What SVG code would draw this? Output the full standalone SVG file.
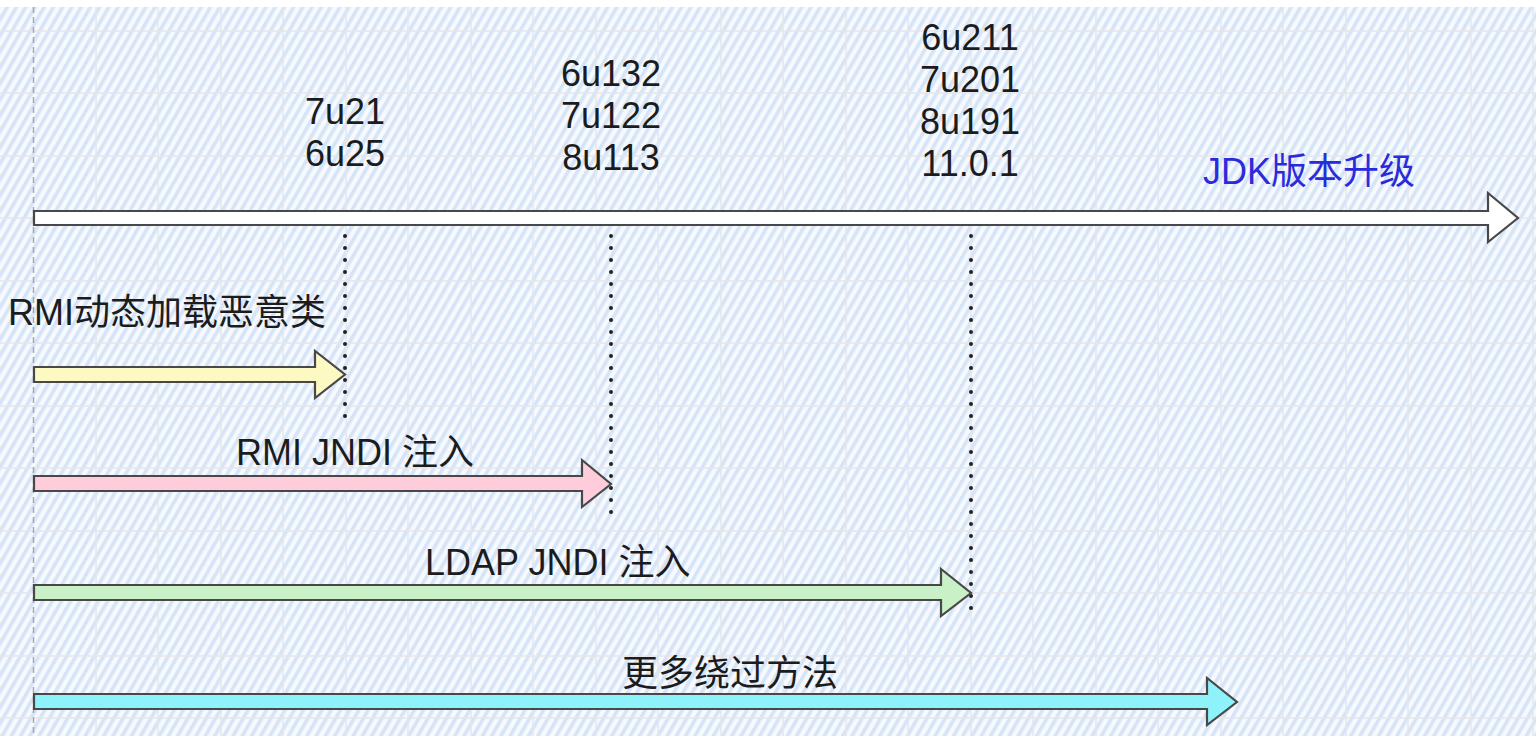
<svg xmlns="http://www.w3.org/2000/svg" width="1536" height="736" viewBox="0 0 1536 736">
<style>
.t{font-family:"Liberation Sans","Noto Sans CJK SC",sans-serif;font-size:36px;fill:#1c1c1c}
.v{text-anchor:middle}
.grid line{stroke:#e4e6ea;stroke-width:1.5}
.arrow{stroke:#484848;stroke-width:2.2;stroke-linejoin:miter}
.dots{stroke:#222;stroke-width:4;stroke-linecap:round;stroke-dasharray:0 12;fill:none}
</style>
<defs>
<pattern id="hatch" width="8" height="8" patternUnits="userSpaceOnUse" patternTransform="rotate(30)">
<rect width="8" height="8" fill="#f6f9fe"/>
<rect width="3.6" height="8" fill="#d6e4f7"/>
</pattern>
</defs>
<rect width="1536" height="736" fill="#ffffff"/>
<rect x="0" y="7" width="1536" height="729" fill="url(#hatch)"/>
<g class="grid">
<line x1="96" y1="7" x2="96" y2="736"/><line x1="158" y1="7" x2="158" y2="736"/><line x1="221" y1="7" x2="221" y2="736"/><line x1="283" y1="7" x2="283" y2="736"/><line x1="346" y1="7" x2="346" y2="736"/><line x1="408" y1="7" x2="408" y2="736"/><line x1="471" y1="7" x2="471" y2="736"/><line x1="533" y1="7" x2="533" y2="736"/><line x1="596" y1="7" x2="596" y2="736"/><line x1="658" y1="7" x2="658" y2="736"/><line x1="721" y1="7" x2="721" y2="736"/><line x1="783" y1="7" x2="783" y2="736"/><line x1="846" y1="7" x2="846" y2="736"/><line x1="908" y1="7" x2="908" y2="736"/><line x1="971" y1="7" x2="971" y2="736"/><line x1="1033" y1="7" x2="1033" y2="736"/><line x1="1096" y1="7" x2="1096" y2="736"/><line x1="1158" y1="7" x2="1158" y2="736"/><line x1="1221" y1="7" x2="1221" y2="736"/><line x1="1283" y1="7" x2="1283" y2="736"/><line x1="1346" y1="7" x2="1346" y2="736"/><line x1="1408" y1="7" x2="1408" y2="736"/><line x1="1471" y1="7" x2="1471" y2="736"/><line x1="1533" y1="7" x2="1533" y2="736"/>
<line x1="0" y1="31" x2="1536" y2="31"/><line x1="0" y1="93" x2="1536" y2="93"/><line x1="0" y1="156" x2="1536" y2="156"/><line x1="0" y1="218" x2="1536" y2="218"/><line x1="0" y1="281" x2="1536" y2="281"/><line x1="0" y1="343" x2="1536" y2="343"/><line x1="0" y1="406" x2="1536" y2="406"/><line x1="0" y1="468" x2="1536" y2="468"/><line x1="0" y1="531" x2="1536" y2="531"/><line x1="0" y1="593" x2="1536" y2="593"/><line x1="0" y1="656" x2="1536" y2="656"/><line x1="0" y1="718" x2="1536" y2="718"/>
</g>
<line x1="33.5" y1="7" x2="33.5" y2="736" stroke="#a8a8a8" stroke-width="1.5" stroke-dasharray="6 4"/>
<g id="connectors">
<line class="dots" x1="345" y1="212" x2="345" y2="426"/>
<line class="dots" x1="611" y1="212" x2="611" y2="516"/>
<line class="dots" x1="971" y1="212" x2="971" y2="614"/>
</g>
<g id="jdk-axis">
<polygon class="arrow" fill="#ffffff" points="34,211 1488,211 1488,193 1518,218 1488,242 1488,225 34,225"/>
<text class="t" x="1203" y="184" style="fill:#2b2bdc">JDK版本升级</text>
</g>
<g id="v1">
<text class="t v" x="345" y="124">7u21</text>
<text class="t v" x="345" y="166">6u25</text>
</g>
<g id="v2">
<text class="t v" x="611" y="86">6u132</text>
<text class="t v" x="611" y="128">7u122</text>
<text class="t v" x="611" y="170">8u113</text>
</g>
<g id="v3">
<text class="t v" x="970" y="50">6u211</text>
<text class="t v" x="970" y="92">7u201</text>
<text class="t v" x="970" y="134">8u191</text>
<text class="t v" x="970" y="176">11.0.1</text>
</g>
<g id="rmi-class">
<polygon class="arrow" fill="#fdf9c2" points="34,367 315,367 315,351 345,374.5 315,398 315,382 34,382"/>
<text class="t" x="8" y="325">RMI动态加载恶意类</text>
</g>
<g id="rmi-jndi">
<polygon class="arrow" fill="#ffccdc" points="34,476 582,476 582,460 611,484 582,507 582,491 34,491"/>
<text class="t" x="236" y="465">RMI JNDI 注入</text>
</g>
<g id="ldap-jndi">
<polygon class="arrow" fill="#c9f0c6" points="34,585 941,585 941,569 971,593 941,616 941,600 34,600"/>
<text class="t" x="425" y="575">LDAP JNDI 注入</text>
</g>
<g id="bypass">
<polygon class="arrow" fill="#8ef2fb" points="34,694 1207,694 1207,678 1237,702 1207,725 1207,709 34,709"/>
<text class="t" x="622" y="686">更多绕过方法</text>
</g>
</svg>
